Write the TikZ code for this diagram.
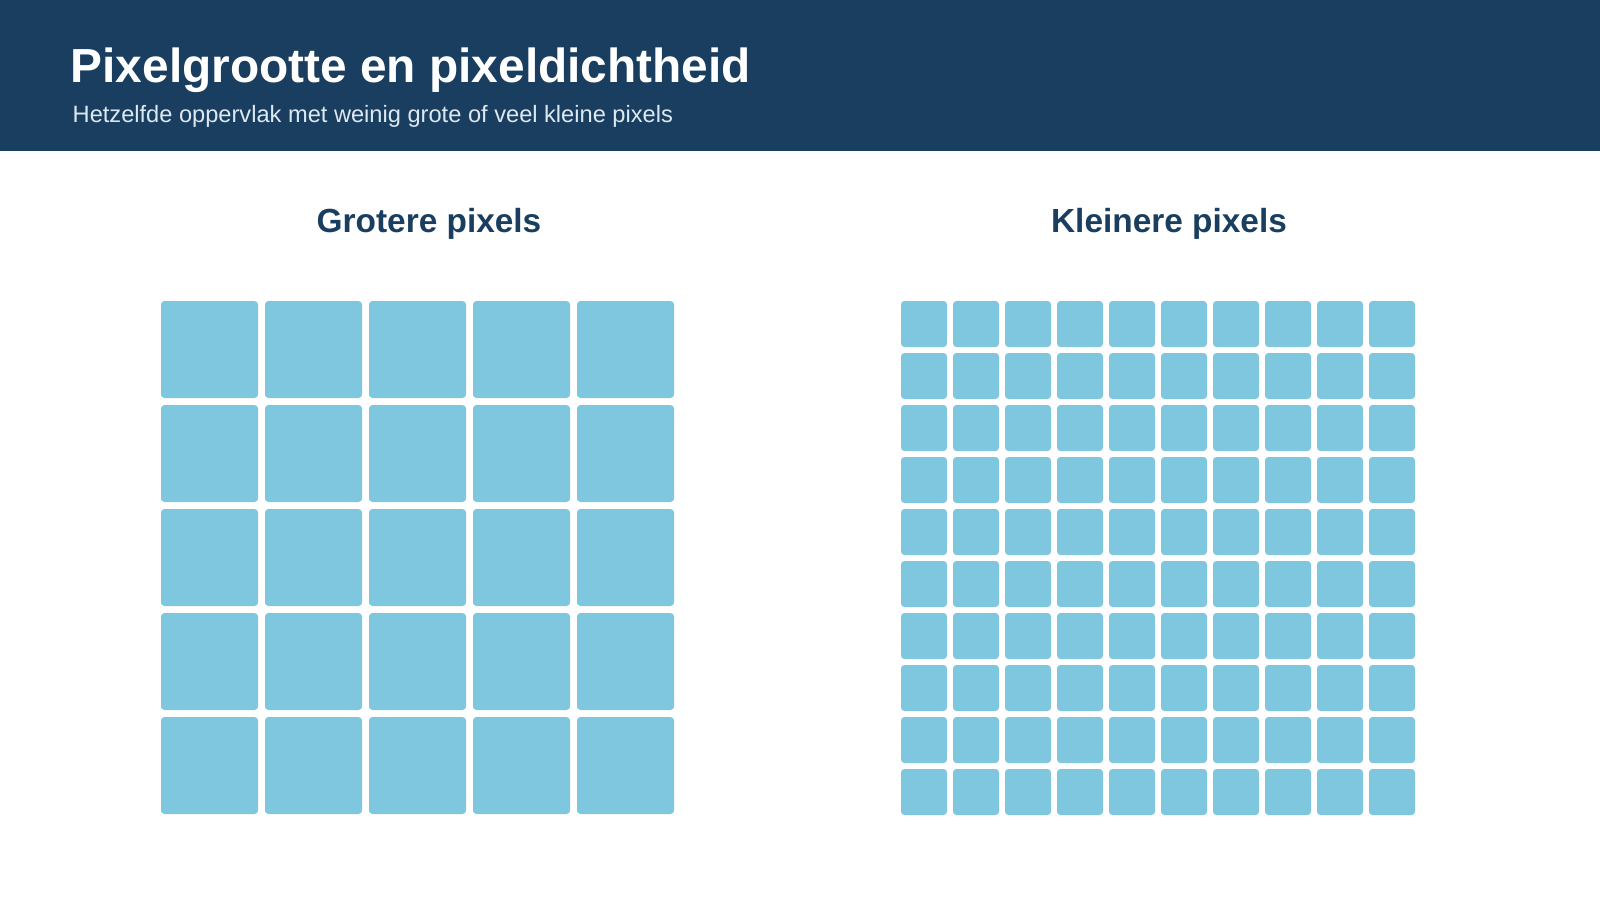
\documentclass[tikz,border=0pt]{standalone}
\usepackage{fontspec}
\setmainfont{Liberation Sans}

\definecolor{headerblue}{HTML}{1A3E5F}
\definecolor{subtext}{HTML}{DCE9F3}
\definecolor{pixelblue}{HTML}{7FC7DF}

\tikzset{
  pixel/.style={fill=pixelblue, rounded corners=0.035cm},
  caption/.style={text=headerblue, font=\fontsize{9.5}{11}\selectfont\bfseries, inner sep=0pt, anchor=base},
}

\begin{document}
\begin{tikzpicture}
\begin{scope}[x=0.01cm,y=-0.01cm]
\useasboundingbox (0,0) rectangle (1600,900);

% header
\fill[headerblue] (0,0) rectangle (1600,151);
\node[anchor=base west, inner sep=0pt, text=white, font=\fontsize{13.6}{16}\selectfont\bfseries] (title) at (70,82) {Pixelgrootte en pixeldichtheid};
\node[anchor=base west, inner sep=0pt, text=subtext, font=\fontsize{6.72}{8}\selectfont] (subtitle) at (72,122) {Hetzelfde oppervlak met weinig grote of veel kleine pixels};

% captions
\node[caption] (bigcap) at (429,232) {Grotere pixels};
\node[caption] (smallcap) at (1169,232) {Kleinere pixels};

% big pixels, 5 x 5
\foreach \i in {0,...,4}
  \foreach \j in {0,...,4}
    \fill[pixel] ({161+104*\i},{301+104*\j}) rectangle +(97,97);

% small pixels, 10 x 10
\foreach \i in {0,...,9}
  \foreach \j in {0,...,9}
    \fill[pixel] ({901+52*\i},{301+52*\j}) rectangle +(46,46);

\end{scope}
\end{tikzpicture}
\end{document}
